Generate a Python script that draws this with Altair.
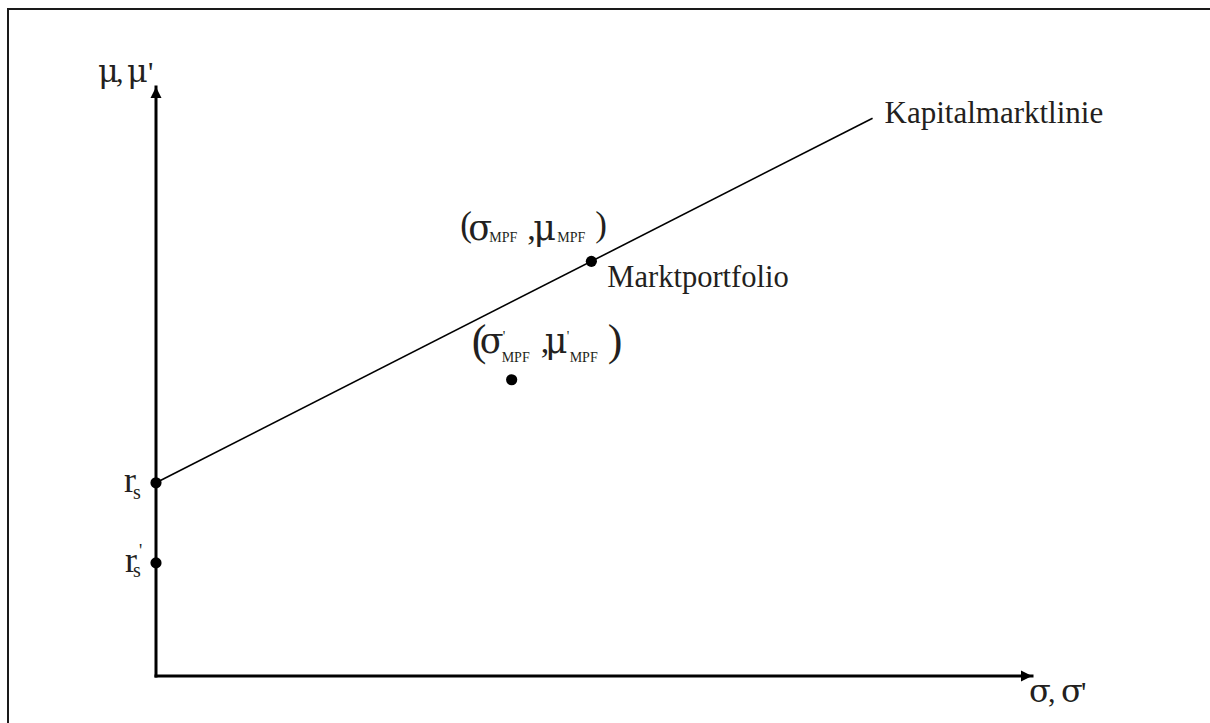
import altair as alt
import pandas as pd

# Risk-free rates on the mu axis: r_s (with lending) and r_s' (without)
rf_mu = [3.28, 1.92]

# Capital market line, from r_s through the market portfolio
cml_sigma = [0.0, 8.18]
cml_mu = [3.28, 9.47]

# Market portfolios: (sigma_MPF, mu_MPF) and (sigma'_MPF, mu'_MPF)
mpf_sigma = [4.97, 4.06]
mpf_mu = [7.04, 5.03]

# Length of both axes
axis_max = 10.0

SERIF = "Liberation Serif"
GREEK = "DejaVu Serif"
INK = "#231f20"

xs = alt.Scale(domain=[0, axis_max], nice=False, zero=False)
ys = alt.Scale(domain=[0, axis_max], nice=False, zero=False)


def pt(s, m):
    return pd.DataFrame({"s": [s], "m": [m]})


def enc(ch):
    return ch.encode(
        x=alt.X("s:Q", scale=xs, axis=None),
        y=alt.Y("m:Q", scale=ys, axis=None),
    )


def label(df, text, dx, dy, size, font=SERIF):
    return enc(
        alt.Chart(df).mark_text(
            text=text, dx=dx, dy=dy, fontSize=size, font=font,
            align="left", baseline="alphabetic", color=INK,
        )
    )


# Outer frame (top and left edges)
frame_top = alt.Chart(pt(0, 0)).mark_rule(color="#1a1a1a", strokeWidth=2).encode(
    x=alt.value(-149), x2=alt.value(1060), y=alt.value(-78)
)
frame_left = alt.Chart(pt(0, 0)).mark_rule(color="#1a1a1a", strokeWidth=2).encode(
    x=alt.value(-148), y=alt.value(-78), y2=alt.value(650)
)

# Coordinate axes drawn as thick rules with arrowheads
axes_df = pd.DataFrame({
    "s": [0.0, 0.0], "m": [0.0, 0.0],
    "s2": [0.0, axis_max], "m2": [axis_max, 0.0],
})
axes = alt.Chart(axes_df).mark_rule(color="black", strokeWidth=3, strokeCap="square").encode(
    x=alt.X("s:Q", scale=xs, axis=None), x2="s2:Q",
    y=alt.Y("m:Q", scale=ys, axis=None), y2="m2:Q",
)
arrow_up = enc(alt.Chart(pt(0, axis_max)).mark_point(
    shape="M0,0L-0.5,1L0.5,1Z", size=484, filled=True, color="black", opacity=1
))
arrow_right = enc(alt.Chart(pt(axis_max, 0)).mark_point(
    shape="M0,0L-1,-0.5L-1,0.5Z", size=484, filled=True, color="black", opacity=1
))

# Capital market line
cml = enc(alt.Chart(pd.DataFrame({"s": cml_sigma, "m": cml_mu})).mark_line(
    color="black", strokeWidth=1.6
))

# Dots
dots_df = pd.DataFrame({
    "s": [0.0, 0.0] + mpf_sigma,
    "m": rf_mu + mpf_mu,
})
dots = enc(alt.Chart(dots_df).mark_circle(size=125, color="black", opacity=1))

p_rs = pt(0, rf_mu[0])
p_rs2 = pt(0, rf_mu[1])
p_end = pt(cml_sigma[1], cml_mu[1])
p_m = pt(mpf_sigma[0], mpf_mu[0])
p_m2 = pt(mpf_sigma[1], mpf_mu[1])
p_ytop = pt(0, axis_max)
p_xend = pt(axis_max, 0)

G = 32   # Greek letters in the axis titles
GL = 35  # Greek letters in the portfolio labels

texts = [
    # axis title μ, μ'
    label(p_ytop, "μ", -58, -5, G, GREEK),
    label(p_ytop, ",", -40, -5, 30),
    label(p_ytop, "μ", -29, -5, G, GREEK),
    label(p_ytop, "'", -8, -5, 30),
    # axis title σ, σ'
    label(p_xend, "σ", -3, 26, G, GREEK),
    label(p_xend, ",", 16, 26, 30),
    label(p_xend, "σ", 29, 26, G, GREEK),
    label(p_xend, "'", 49, 26, 30),
    # line and portfolio names
    label(p_end, "Kapitalmarktlinie", 12, 5, 31),
    label(p_m, "Marktportfolio", 16, 26, 30.5),
    # (σ_MPF, μ_MPF)
    label(p_m, "(", -131, -25, 35),
    label(p_m, "σ", -123, -21, GL, GREEK),
    label(p_m, "MPF", -102, -19, 14),
    label(p_m, ",", -64, -21, 34),
    label(p_m, "μ", -58, -21, GL, GREEK),
    label(p_m, "MPF", -34, -19, 14),
    label(p_m, ")", 4, -25, 35),
    # (σ'_MPF, μ'_MPF)
    label(p_m2, "(", -40, -25, 44),
    label(p_m2, "σ", -32, -27, GL, GREEK),
    label(p_m2, "'", -9, -39, 14),
    label(p_m2, "MPF", -10, -18, 14),
    label(p_m2, ",", 29, -27, 34),
    label(p_m2, "μ", 33, -27, GL, GREEK),
    label(p_m2, "'", 55, -39, 14),
    label(p_m2, "MPF", 58, -18, 14),
    label(p_m2, ")", 96, -25, 44),
    # r_s and r_s'
    label(p_rs, "r", -32, 9, 36),
    label(p_rs, "s", -23, 16, 20),
    label(p_rs2, "r", -31, 9, 36),
    label(p_rs2, "'", -17, -6, 18),
    label(p_rs2, "s", -23, 14, 20),
]

chart = alt.layer(
    frame_top, frame_left, cml, axes, arrow_up, arrow_right, dots, *texts
).properties(
    width=876,
    height=589,
    padding={"left": 156, "top": 87, "right": 178, "bottom": 47},
    autosize=alt.AutoSizeParams(type="none"),
    background="white",
).configure_view(stroke=None)

chart.save("out.html", embed_options={"renderer": "svg", "actions": False})
